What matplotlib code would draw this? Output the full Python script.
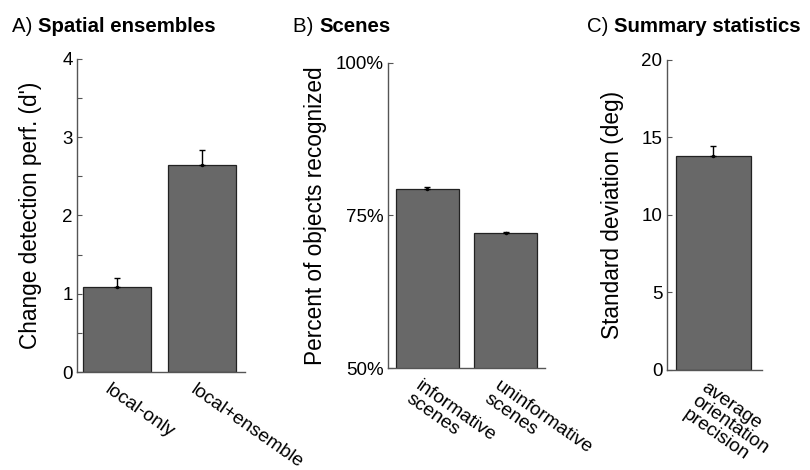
import matplotlib
matplotlib.use("Agg")
import matplotlib.pyplot as plt
from matplotlib.transforms import ScaledTranslation

plt.rcParams['font.family'] = ['Liberation Sans', 'DejaVu Sans']

# panel A: spatial ensembles
a_cats = ['local-only', 'local+ensemble']
a_vals = [1.08, 2.65]
a_errs = [0.12, 0.19]

# panel B: scenes
b_cats = ['informative\nscenes', 'uninformative\nscenes']
b_vals = [79.3, 72.1]
b_errs = [0.3, 0.25]

# panel C: summary statistics
c_cats = ['average\norientation\nprecision']
c_vals = [13.8]
c_errs = [0.65]

bar_col = '#686868'
spine_col = '#555555'

fig = plt.figure(figsize=(8.1, 4.7), dpi=100)
axA = fig.add_axes([0.095, 0.2085, 0.207, 0.666])
axB = fig.add_axes([0.479, 0.217, 0.194, 0.649])
axC = fig.add_axes([0.823, 0.213, 0.118, 0.660])


def draw_panel(ax, cats, vals, errs):
    x = list(range(1, len(cats) + 1))
    ax.bar(x, vals, width=0.8, color=bar_col, edgecolor='#222222', linewidth=0.9, zorder=2)
    ax.errorbar(x, vals, yerr=[[0] * len(errs), errs], fmt='.', color='black',
                markersize=3, elinewidth=1, capsize=2.5, capthick=1, zorder=3)
    for s in ['top', 'right']:
        ax.spines[s].set_visible(False)
    for s in ['left', 'bottom']:
        ax.spines[s].set_color(spine_col)
        ax.spines[s].set_linewidth(1)
    ax.tick_params(axis='y', direction='in', length=3.5, color=spine_col,
                   labelsize=13.5, pad=3)
    ax.set_xticks(x)
    ax.set_xticklabels(cats, rotation=-35, ha='left', va='top',
                       rotation_mode='anchor', fontsize=13.8, linespacing=0.95,
                       multialignment='left')
    ax.tick_params(axis='x', length=0, pad=6.5)
    for lab in ax.get_xticklabels():
        lab.set_transform(lab.get_transform() + ScaledTranslation(-0.05, 0, fig.dpi_scale_trans))


draw_panel(axA, a_cats, a_vals, a_errs)
axA.set_xlim(0.53, 2.5)
axA.set_ylim(0, 4)
axA.set_yticks([0, 0.5, 1, 1.5, 2, 2.5, 3, 3.5, 4])
axA.set_yticklabels(['0', '', '1', '', '2', '', '3', '', '4'])
axA.set_ylabel("Change detection perf. (d')", fontsize=16.3)
axA.yaxis.set_label_coords(-0.21, 0.5)

draw_panel(axB, b_cats, b_vals, b_errs)
axB.set_xlim(0.5, 2.5)
axB.set_ylim(50, 100)
axB.set_yticks([50, 75, 100])
axB.set_yticklabels(['50%', '75%', '100%'])
axB.set_ylabel("Percent of objects recognized", fontsize=16.3)
axB.yaxis.set_label_coords(-0.39, 0.5)

draw_panel(axC, c_cats, c_vals, c_errs)
axC.set_xlim(0.5, 1.52)
axC.set_ylim(0, 20)
axC.set_yticks([0, 5, 10, 15, 20])
axC.set_ylabel("Standard deviation (deg)", fontsize=16.3)
axC.yaxis.set_label_coords(-0.443, 0.5)

# panel titles: regular letter + bold name
titles = [(12, 'A) ', 'Spatial ensembles'),
          (293, 'B) ', 'Scenes'),
          (587, 'C) ', 'Summary statistics')]
fig.canvas.draw()
rend = fig.canvas.get_renderer()
for px, letter, name in titles:
    t1 = fig.text(px / 810, 0.932, letter, fontsize=14.7, va='baseline')
    w = t1.get_window_extent(renderer=rend).width
    fig.text((px + w) / 810, 0.932, name, fontsize=14.7, fontweight='bold', va='baseline')

fig.savefig('out.png', dpi=100)
